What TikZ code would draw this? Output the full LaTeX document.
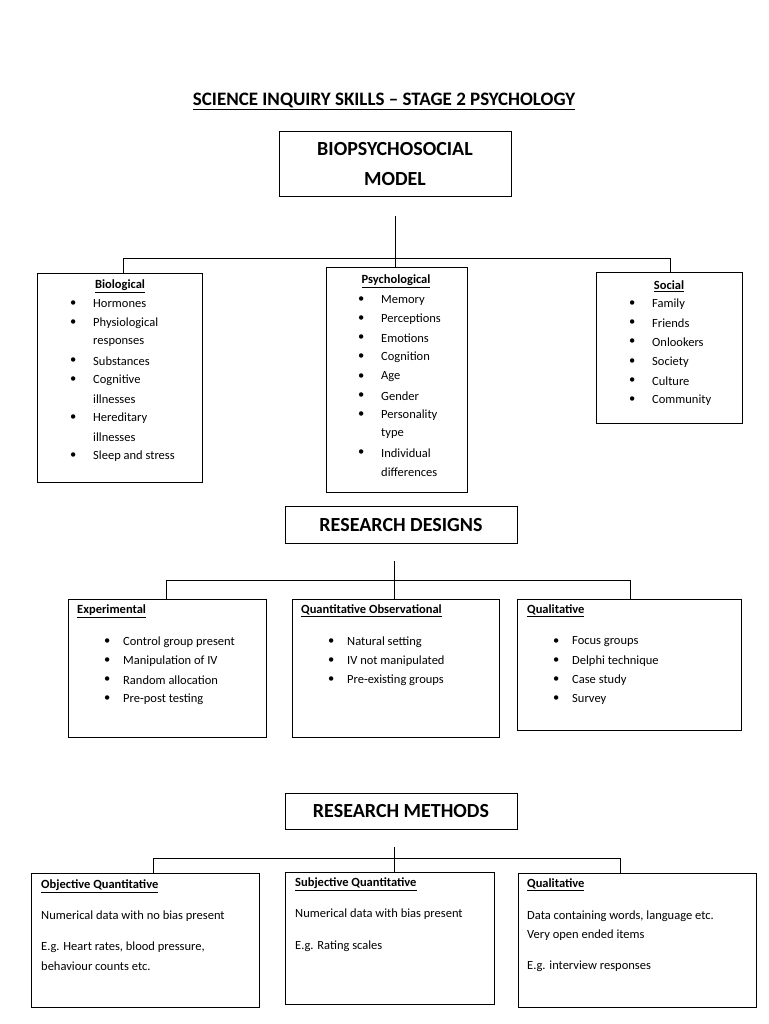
\documentclass[tikz,border=0pt]{standalone}
\usepackage{fontspec}
\setmainfont{Carlito}
\begin{document}
\begin{tikzpicture}[x=1pt,y=-1pt,
  bx/.style={draw,line width=0.8pt},
  ln/.style={line width=0.7pt},
  t/.style={anchor=west,inner sep=0pt,font=\fontsize{12.5}{15}\selectfont},
  hd/.style={inner sep=0pt,font=\fontsize{12.5}{15}\selectfont\bfseries},
  big/.style={font=\fontsize{20}{30}\selectfont\bfseries,align=center}]
\useasboundingbox (0,0) rectangle (768,1024);
\node[font=\fontsize{19}{22}\selectfont\bfseries] (title) at (384,101) {\underline{SCIENCE INQUIRY SKILLS -- STAGE 2 PSYCHOLOGY}};
% top model
\draw[bx] (279,131) rectangle (511,196);
\node[big] (bps) at (395,164) {BIOPSYCHOSOCIAL\\MODEL};
\coordinate (a0) at (395,216); \coordinate (a1) at (395,258);
\draw[ln] (a0) -- (a1);
\draw[ln] (123,258) -- (670,258);
\draw[ln] (123,258) -- (123,273);
\draw[ln] (395,258) -- (395,267);
\draw[ln] (670,258) -- (670,272);
\draw[bx] (37,273) rectangle (202,482);
\draw[bx] (326,267) rectangle (467,492);
\draw[bx] (596,272) rectangle (742,423);
\node[hd] (hb) at (120,286) {\underline{Biological}};
\node[hd] (hp) at (396,281) {\underline{Psychological}};
\node[hd] (hs) at (669,286) {\underline{Social}};
\foreach \y/\s/\b in {304/Hormones/1,323/Physiological/1,342/responses/0,361/Substances/1,380/Cognitive/1,399/illnesses/0,418/Hereditary/1,437/illnesses/0,456/Sleep and stress/1}{
  \node[t] at (93,\y) {\s};
  \ifnum\b=1 \node[t] at (70,\y) {\textbullet};\fi}
\foreach \y/\s/\b in {300/Memory/1,319/Perceptions/1,338/Emotions/1,357/Cognition/1,377/Age/1,396/Gender/1,415/Personality/1,434/type/0,453/Individual/1,472/differences/0}{
  \node[t] at (381,\y) {\s};
  \ifnum\b=1 \node[t] at (358,\y) {\textbullet};\fi}
\foreach \y/\s in {304/Family,323/Friends,342/Onlookers,362/Society,381/Culture,400/Community}{
  \node[t] at (652,\y) {\s}; \node[t] at (629,\y) {\textbullet};}
% research designs
\draw[bx] (285,506) rectangle (517,543);
\node[big] (rd) at (401,525) {RESEARCH DESIGNS};
\draw[ln] (394,561) -- (394,580);
\draw[ln] (166,580) -- (630,580);
\foreach \x in {166,394,630} \draw[ln] (\x,580) -- (\x,599);
\draw[bx] (68,599) rectangle (266,737);
\draw[bx] (292,599) rectangle (499,737);
\draw[bx] (517,599) rectangle (741,730);
\node[hd,anchor=west] (he) at (77,611) {\underline{Experimental}};
\node[hd,anchor=west] (hq) at (301,611) {\underline{Quantitative Observational}};
\node[hd,anchor=west] (hl) at (527,611) {\underline{Qualitative}};
\foreach \y/\s in {642/Control group present,661/Manipulation of IV,680/Random allocation,699/Pre-post testing}{
  \node[t] at (123,\y) {\s}; \node[t] at (104,\y) {\textbullet};}
\foreach \y/\s in {642/Natural setting,661/IV not manipulated,680/Pre-existing groups}{
  \node[t] at (347,\y) {\s}; \node[t] at (328,\y) {\textbullet};}
\foreach \y/\s in {642/Focus groups,661/Delphi technique,680/Case study,699/Survey}{
  \node[t] at (572,\y) {\s}; \node[t] at (553,\y) {\textbullet};}
% research methods
\draw[bx] (285,793) rectangle (517,829);
\node[big] (rm) at (401,811) {RESEARCH METHODS};
\draw[ln] (394,847) -- (394,858);
\draw[ln] (153,858) -- (620,858);
\draw[ln] (153,858) -- (153,873);
\draw[ln] (394,858) -- (394,872);
\draw[ln] (620,858) -- (620,873);
\draw[bx] (31,873) rectangle (259,1007);
\draw[bx] (285,872) rectangle (494,1004);
\draw[bx] (518,873) rectangle (756,1007);
\node[hd,anchor=west] (ho) at (41,886) {\underline{Objective Quantitative}};
\node[t] at (41,916) {Numerical data with no bias present};
\node[t] at (41,947) {E.g. Heart rates, blood pressure,};
\node[t] at (41,966) {behaviour counts etc.};
\node[hd,anchor=west] (hsq) at (295,884) {\underline{Subjective Quantitative}};
\node[t] at (295,914) {Numerical data with bias present};
\node[t] at (295,946) {E.g. Rating scales};
\node[hd,anchor=west] (hql) at (527,885) {\underline{Qualitative}};
\node[t] at (527,916) {Data containing words, language etc.};
\node[t] at (527,935) {Very open ended items};
\node[t] at (527,966) {E.g. interview responses};
\end{tikzpicture}
\end{document}
